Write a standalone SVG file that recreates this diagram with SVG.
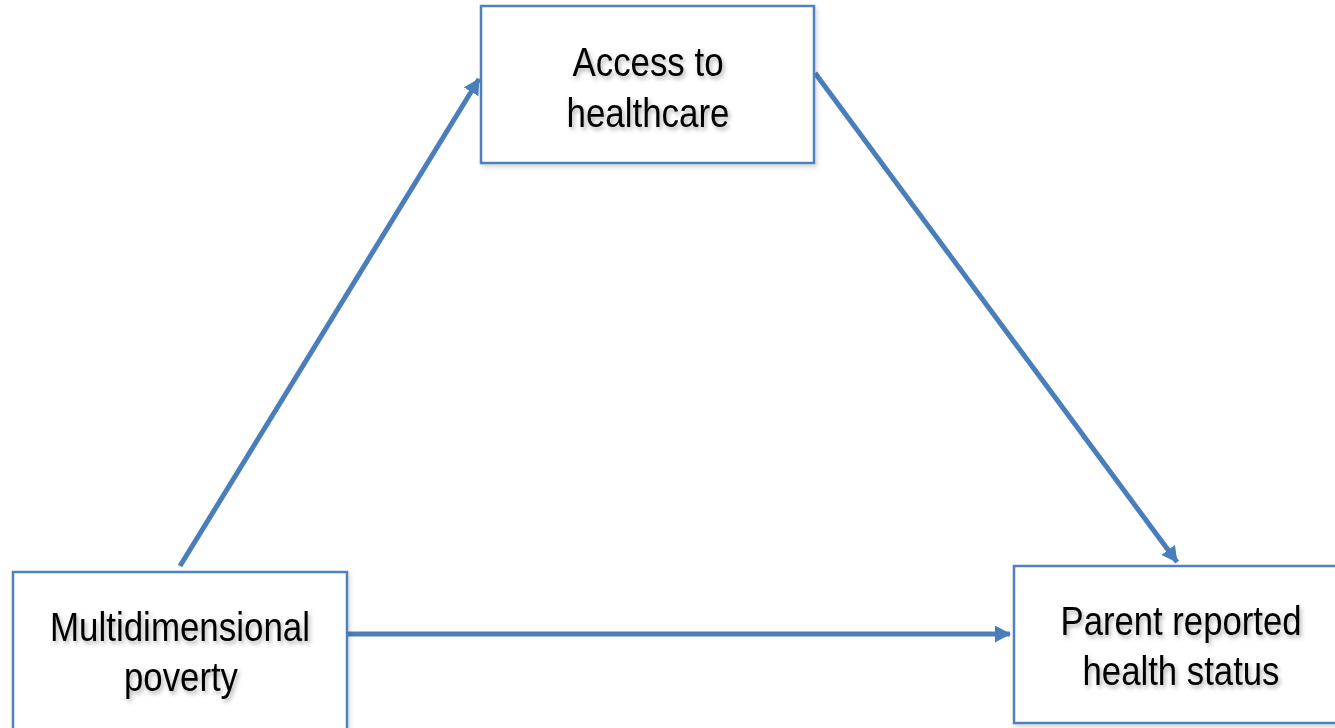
<svg xmlns="http://www.w3.org/2000/svg" width="1335" height="728" viewBox="0 0 1335 728">
<defs>
<style>
.box{fill:#ffffff;stroke:#4f81bd;stroke-width:2.5}
.lbl{font-family:"Liberation Sans",Arial,sans-serif;font-size:41px;fill:#000;text-anchor:middle;filter:url(#sh)}
.conn{stroke:#4a7ebb;stroke-width:5;fill:none;marker-end:url(#ah)}
</style>
<filter id="sh" x="-10%" y="-20%" width="130%" height="150%">
<feDropShadow dx="2" dy="3" stdDeviation="2" flood-color="#000" flood-opacity="0.3"/>
</filter>
<filter id="bsh" x="-5%" y="-5%" width="115%" height="115%">
<feDropShadow dx="2" dy="3" stdDeviation="2" flood-color="#000" flood-opacity="0.15"/>
</filter>
<marker id="ah" markerWidth="3.2" markerHeight="3.4" refX="3" refY="1.7" orient="auto" markerUnits="strokeWidth">
<path d="M0,0 L3.2,1.7 L0,3.4 Z" fill="#4a7ebb"/>
</marker>
</defs>
<rect width="1335" height="728" fill="#ffffff"/>
<g id="connectors">
<line class="conn" x1="180" y1="566" x2="479" y2="79"/>
<line class="conn" x1="815" y1="73" x2="1177" y2="562"/>
<line class="conn" x1="348" y1="634" x2="1010" y2="634"/>
</g>
<g id="access">
<rect class="box" x="481" y="6" width="333" height="157" filter="url(#bsh)"/>
<text class="lbl" x="648" y="76" textLength="151" lengthAdjust="spacingAndGlyphs">Access to</text>
<text class="lbl" x="648" y="127" textLength="163" lengthAdjust="spacingAndGlyphs">healthcare</text>
</g>
<g id="poverty">
<rect class="box" x="13" y="572" width="334" height="170" filter="url(#bsh)"/>
<text class="lbl" x="180" y="641" textLength="260" lengthAdjust="spacingAndGlyphs">Multidimensional</text>
<text class="lbl" x="181" y="691" textLength="114" lengthAdjust="spacingAndGlyphs">poverty</text>
</g>
<g id="health">
<rect class="box" x="1014" y="566" width="340" height="157" filter="url(#bsh)"/>
<text class="lbl" x="1181" y="635" textLength="241" lengthAdjust="spacingAndGlyphs">Parent reported</text>
<text class="lbl" x="1181" y="685" textLength="197" lengthAdjust="spacingAndGlyphs">health status</text>
</g>
</svg>
